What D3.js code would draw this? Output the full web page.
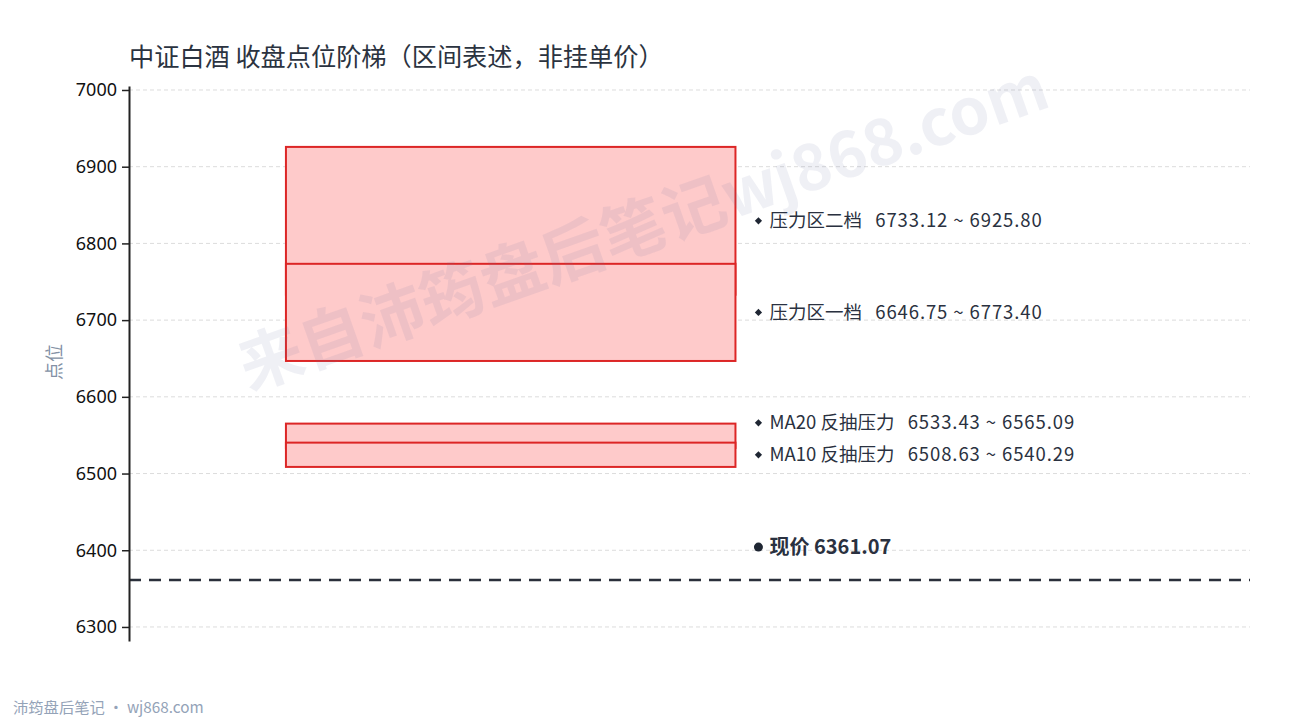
<!DOCTYPE html>
<html>
<head>
<meta charset="utf-8">
<script src="https://cdn.jsdelivr.net/npm/d3@7"></script>
<style>
  body { margin: 0; background: #fff; }
  svg text { font-family: "Noto Sans CJK SC", "Noto Sans", sans-serif; white-space: pre; }
</style>
</head>
<body>
<svg id="chart" width="1290" height="720"></svg>
<script>
// 区间数据（按上沿从高到低，后画的盖住前面的）
var zoneNames = ["压力区二档", "压力区一档", "MA20 反抽压力", "MA10 反抽压力"];
var zoneLow = [6733.12, 6646.75, 6533.43, 6508.63];
var zoneHigh = [6925.80, 6773.40, 6565.09, 6540.29];
var currentPrice = 6361.07;
var yTicks = [6300, 6400, 6500, 6600, 6700, 6800, 6900, 7000];

var plotLeft = 129, plotRight = 1250, plotTop = 86, plotBottom = 641;

var svg = d3.select("#chart");

var y = d3.scaleLinear().domain([6281.7, 7005.2]).range([plotBottom, plotTop]);
var x = d3.scaleLinear().domain([0, 1]).range([plotLeft, plotRight]);

// grid
svg.append("g").selectAll("line")
  .data(yTicks)
  .join("line")
  .attr("x1", plotLeft).attr("x2", plotRight)
  .attr("y1", function(d){ return y(d); })
  .attr("y2", function(d){ return y(d); })
  .attr("stroke", "#dcdcdc")
  .attr("stroke-width", 1)
  .attr("stroke-dasharray", "4,3");

// zones
var zones = zoneNames.map(function(n, i){ return {name: n, lo: zoneLow[i], hi: zoneHigh[i]}; });

svg.append("g").selectAll("rect")
  .data(zones)
  .join("rect")
  .attr("x", x(0.14))
  .attr("width", x(0.541) - x(0.14))
  .attr("y", function(d){ return y(d.hi); })
  .attr("height", function(d){ return y(d.lo) - y(d.hi); })
  .attr("fill", "#fecaca")
  .attr("stroke", "#dc2626")
  .attr("stroke-width", 2);

// watermark sits on top of the boxes
svg.append("text")
  .attr("transform", "translate(645,232) rotate(-19.5)")
  .attr("text-anchor", "middle")
  .attr("dominant-baseline", "middle")
  .style("font-size", "64px")
  .style("font-weight", "bold")
  .style("fill", "rgba(110,120,160,0.11)")
  .text("来自沛筠盘后笔记wj868.com");

// current price line
svg.append("line")
  .attr("x1", plotLeft).attr("x2", plotRight)
  .attr("y1", y(currentPrice)).attr("y2", y(currentPrice))
  .attr("stroke", "#2b303b")
  .attr("stroke-width", 2.5)
  .attr("stroke-dasharray", "12,8");

// labels, pushed apart when too close
var labelY = zones.map(function(d){ return y((d.lo + d.hi) / 2); });
for (var i = labelY.length - 2; i >= 0; i--) {
  if (labelY[i + 1] - labelY[i] < 32) labelY[i] = labelY[i + 1] - 32;
}
var lx = x(0.5615);

var labels = svg.append("g").selectAll("g")
  .data(zones)
  .join("g")
  .attr("transform", function(d, i){ return "translate(" + lx + "," + labelY[i] + ")"; });

labels.append("path")
  .attr("d", d3.symbol().type(d3.symbolSquare).size(26))
  .attr("transform", "rotate(45)")
  .attr("fill", "#1f2633");

var lt = labels.append("text")
  .attr("x", 11)
  .attr("dy", "0.35em")
  .style("font-size", "18.5px")
  .style("fill", "#2a3140");
lt.append("tspan").text(function(d){ return d.name + "  "; });
lt.append("tspan")
  .attr("dx", 5)
  .style("letter-spacing", "0.9px")
  .text(function(d){ return d.lo.toFixed(2) + " ~ " + d.hi.toFixed(2); });

var priceLabel = svg.append("g")
  .attr("transform", "translate(" + lx + "," + (y(currentPrice) - 33) + ")");
priceLabel.append("circle").attr("r", 4.5).attr("fill", "#1f2633");
priceLabel.append("text")
  .attr("x", 11)
  .attr("dy", "0.35em")
  .style("font-size", "20px")
  .style("font-weight", "bold")
  .style("fill", "#2a3140")
  .text("现价 " + currentPrice.toFixed(2));

// y axis
var axis = svg.append("g")
  .attr("transform", "translate(" + plotLeft + ",0)")
  .call(d3.axisLeft(y).tickValues(yTicks).tickFormat(d3.format("d")).tickSize(7).tickSizeOuter(0).tickPadding(5));
axis.select(".domain").attr("stroke", "#222").attr("stroke-width", 2);
axis.selectAll(".tick line").attr("stroke", "#222").attr("stroke-width", 1.5);
axis.selectAll(".tick text")
  .style("font-size", "18px")
  .style("fill", "#111")
  .style("font-family", "'Noto Sans', 'Noto Sans CJK SC', sans-serif");

svg.append("text")
  .attr("transform", "translate(61,362) rotate(-90)")
  .attr("text-anchor", "middle")
  .style("font-size", "18px")
  .style("fill", "#8391a5")
  .text("点位");

// title
svg.append("text")
  .attr("x", 129).attr("y", 66)
  .style("font-size", "25.2px")
  .style("fill", "#2b3340")
  .text("中证白酒 收盘点位阶梯（区间表述，非挂单价）");

// footer
svg.append("text")
  .attr("x", 13).attr("y", 713)
  .style("font-size", "15.3px")
  .style("fill", "#94a3b8")
  .text("沛筠盘后笔记 · wj868.com");
</script>
</body>
</html>
